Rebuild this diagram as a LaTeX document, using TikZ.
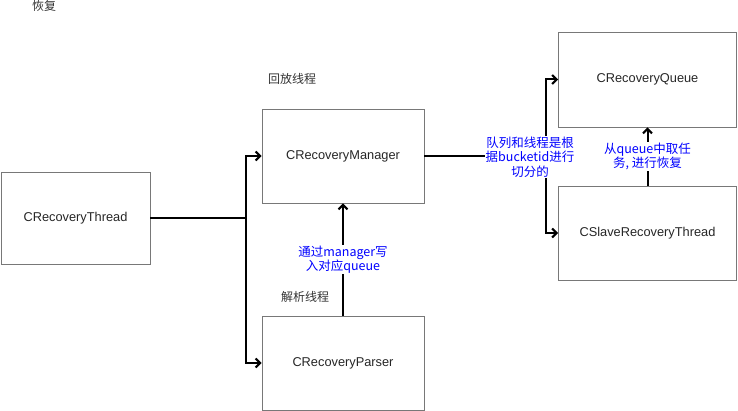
\documentclass[tikz,border=0pt]{standalone}
\usepackage{fontspec}
\setmainfont{Liberation Sans}
\newfontfamily\cjk{Noto Sans CJK SC}
\usepackage{xcolor}
\usetikzlibrary{arrows.meta,calc,positioning}
\definecolor{edgeblue}{RGB}{0,0,255}
\definecolor{boxgray}{RGB}{120,120,120}
\tikzset{
  blk/.style={draw=boxgray, line width=0.9pt, minimum width=162pt, minimum height=94pt,
    inner sep=0pt, font=\fontsize{12.8}{14}\selectfont, text=black!85},
  flow/.style={-{Straight Barb[length=4.5pt,width=9pt]}, line width=2pt},
  tag/.style={font=\cjk\fontsize{12}{14}\selectfont, text=black!80, inner sep=0pt},
  elabel/.style={font=\cjk\fontsize{12.5}{14.5}\selectfont, text=edgeblue, fill=white,
    align=center, inner sep=1pt}
}
\begin{document}
\begin{tikzpicture}[x=1pt,y=-1pt]
  \useasboundingbox (0,0) rectangle (738,411);
  % boxes
  \node[blk, minimum width=149pt, minimum height=92pt] (thread) at (75.5,218.5) {CRecoveryThread};
  \node[blk] (manager) at (343,156) {CRecoveryManager};
  \node[blk] (parser) at (343,363) {CRecoveryParser};
  \node[blk, minimum width=178pt, minimum height=95pt] (queue) at (647.5,79.5) {CRecoveryQueue};
  \node[blk, minimum width=178pt, minimum height=94pt] (slave) at (647.5,233) {CSlaveRecoveryThread};
  % captions
  \node[tag] (title) at (44,6) {恢复};
  \node[tag] (replay) at (292,79) {回放线程};
  \node[tag] (parse) at (305,297) {解析线程};
  % fork from thread
  \coordinate (fa) at ($(thread.east)+(96,0)$);
  \draw[line width=2pt] (thread.east) -- (fa);
  \draw[flow] (fa) |- (manager.west);
  \draw[flow] (fa) |- (parser.west);
  % fork from manager
  \coordinate (fb) at ($(manager.east)+(122,0)$);
  \draw[line width=2pt] (manager.east) -- (fb);
  \draw[flow] (fb) |- (queue.west);
  \draw[flow] (fb) |- (slave.west);
  \node[elabel] (split) at (530,157) {队列和线程是根\\据bucketid进行\\切分的};
  % vertical arrows
  \draw[flow] (parser.north) -- node[elabel] (write) {通过manager写\\入对应queue} (manager.south);
  \draw[flow] (slave.north) -- node[elabel] (take) {从queue中取任\\务, 进行恢复} (queue.south);
\end{tikzpicture}
\end{document}
